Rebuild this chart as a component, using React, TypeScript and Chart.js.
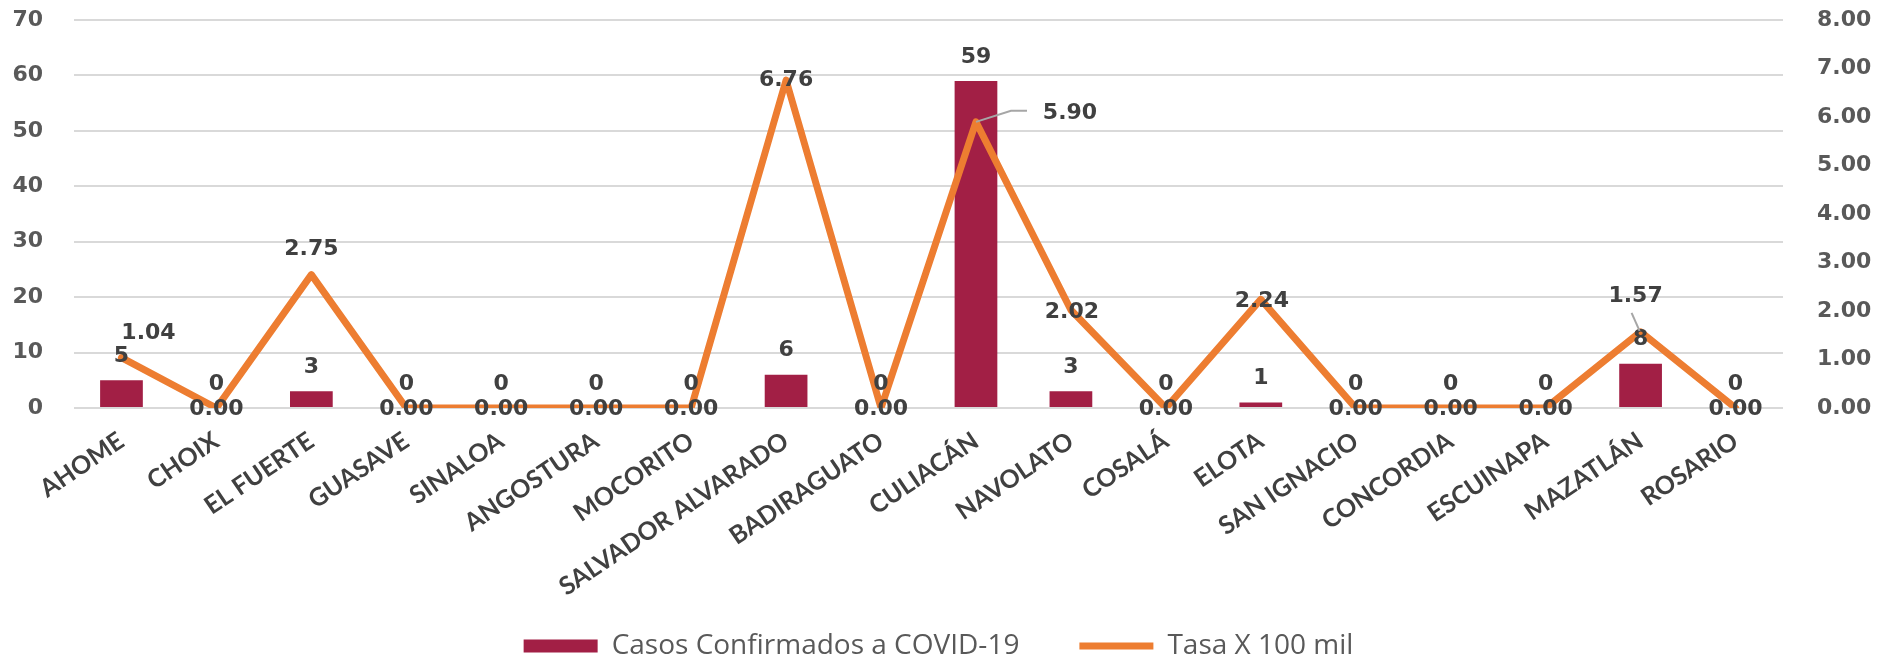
import React, { useEffect, useRef } from "react";
import { Chart, registerables } from "chart.js";
Chart.register(...registerables);

const categories = [
  "AHOME", "CHOIX", "EL FUERTE", "GUASAVE", "SINALOA", "ANGOSTURA", "MOCORITO",
  "SALVADOR ALVARADO", "BADIRAGUATO", "CULIACÁN", "NAVOLATO", "COSALÁ", "ELOTA",
  "SAN IGNACIO", "CONCORDIA", "ESCUINAPA", "MAZATLÁN", "ROSARIO",
];
const casos = [5, 0, 3, 0, 0, 0, 0, 6, 0, 59, 3, 0, 1, 0, 0, 0, 8, 0];
const tasa = [1.04, 0, 2.75, 0, 0, 0, 0, 6.76, 0, 5.9, 2.02, 0, 2.24, 0, 0, 0, 1.57, 0];
const casosLabel = "Casos Confirmados a COVID-19";
const tasaLabel = "Tasa X 100 mil";

const W = 1877;
const H = 654;
const BAR = "#A21F45";
const LINE = "#ED7D31";
const LABEL_FONT = "bold 22px 'DejaVu Sans'";
const CLEAR = "rgba(0,0,0,0)";

// label placement (style only): offsets for the rate labels, px
const rateShift: Record<number, [number, number]> = {
  0: [27, -24],
  2: [0, -25],
  7: [0, 0],
  9: [94, -9],
  10: [1, 2],
  12: [1, 2],
  16: [-5, -36],
};

const noLabelClip = {
  id: "noLabelClip",
  afterLayout(chart: any) {
    const sx = chart.scales.x;
    if (sx) sx._computeLabelArea = () => undefined;
  },
};

const labelsPlugin = {
  id: "valueLabels",
  afterDatasetsDraw(chart: any) {
    const ctx = chart.ctx;
    ctx.save();
    ctx.font = LABEL_FONT;
    ctx.fillStyle = "#404040";
    ctx.textAlign = "center";
    ctx.textBaseline = "middle";
    const lineMeta = chart.getDatasetMeta(0);
    const barMeta = chart.getDatasetMeta(1);
    barMeta.data.forEach((el: any, i: number) => {
      ctx.fillText(String(casos[i]), el.x, el.y - 24);
    });
    lineMeta.data.forEach((el: any, i: number) => {
      const s = rateShift[i] || [0, 1];
      const px = el.x;
      const py = el.y;
      if (i === 9) {
        ctx.save();
        ctx.strokeStyle = "#A6A6A6";
        ctx.lineWidth = 2;
        ctx.beginPath();
        ctx.moveTo(px, py);
        ctx.lineTo(px + 35, py - 11);
        ctx.lineTo(px + 51, py - 11);
        ctx.stroke();
        ctx.restore();
      }
      if (i === 16) {
        ctx.save();
        ctx.strokeStyle = "#A6A6A6";
        ctx.lineWidth = 2;
        ctx.beginPath();
        ctx.moveTo(px - 1, py - 1);
        ctx.lineTo(px - 9, py - 19);
        ctx.stroke();
        ctx.restore();
      }
      ctx.fillText(tasa[i].toFixed(2), px + s[0], py + s[1]);
    });
    ctx.restore();
  },
};

export default function App() {
  const ref = useRef<HTMLCanvasElement | null>(null);
  useEffect(() => {
    if (!ref.current) return;
    const chart = new Chart(ref.current, {
      type: "bar",
      data: {
        labels: categories,
        datasets: [
          {
            type: "line",
            label: tasaLabel,
            data: tasa,
            yAxisID: "y1",
            borderColor: LINE,
            backgroundColor: LINE,
            borderWidth: 7,
            borderCapStyle: "round",
            borderJoinStyle: "round",
            pointRadius: 0,
            pointStyle: "line",
            tension: 0,
          } as any,
          {
            type: "bar",
            label: casosLabel,
            data: casos,
            yAxisID: "y",
            backgroundColor: BAR,
            borderWidth: 0,
            pointStyle: "rect",
            categoryPercentage: 1,
            barPercentage: 0.45,
          } as any,
        ],
      },
      options: {
        responsive: false,
        animation: false,
        layout: { padding: { top: 20, left: 0, right: 0, bottom: -16 } },
        plugins: {
          tooltip: { enabled: false },
          legend: {
            position: "bottom",
            labels: {
              usePointStyle: true,
              pointStyleWidth: 74,
              boxHeight: 13,
              padding: 60,
              color: "#595959",
              font: { family: "Open Sans", size: 28 },
              sort: (a: any, b: any) => b.datasetIndex - a.datasetIndex,
            },
          },
        },
        scales: {
          x: {
            grid: { display: false, drawTicks: false },
            border: { display: false },
            ticks: {
              autoSkip: false,
              minRotation: 34,
              maxRotation: 34,
              padding: 18,
              color: "#404040",
              font: { family: "Lato", weight: "bold", size: 25 },
            },
            afterFit: (s: any) => {
              s.height = 164;
            },
          },
          y: {
            position: "left",
            min: 0,
            max: 70,
            ticks: {
              stepSize: 10,
              padding: 0,
              color: "#595959",
              font: { family: "DejaVu Sans", weight: "bold", size: 22 },
            },
            grid: {
              color: "#D9D9D9",
              lineWidth: 2,
              drawTicks: true,
              tickLength: 31,
              tickColor: CLEAR,
            },
            border: { display: false },
            afterFit: (s: any) => {
              s.width = 74;
            },
          },
          y1: {
            position: "right",
            min: 0,
            max: 8,
            ticks: {
              stepSize: 1,
              padding: 0,
              color: "#595959",
              font: { family: "DejaVu Sans", weight: "bold", size: 22 },
              callback: (v: any) => Number(v).toFixed(2),
            },
            grid: {
              display: true,
              drawOnChartArea: false,
              color: CLEAR,
              drawTicks: true,
              tickLength: 34,
              tickColor: CLEAR,
            },
            border: { display: false },
            afterFit: (s: any) => {
              s.width = 94;
            },
          },
        },
      } as any,
      plugins: [noLabelClip, labelsPlugin],
    });
    return () => chart.destroy();
  }, []);
  return (
    <div style={{ position: "fixed", left: 0, top: 0, width: W, height: H, background: "#fff" }}>
      <canvas ref={ref} width={W} height={H} style={{ display: "block" }} />
    </div>
  );
}
